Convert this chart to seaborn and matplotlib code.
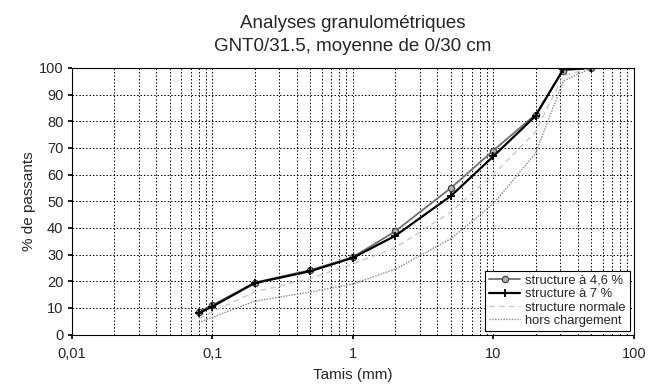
import matplotlib
matplotlib.use("Agg")
import matplotlib.pyplot as plt
import seaborn as sns
import numpy as np
import pandas as pd
from matplotlib.ticker import FixedLocator, LogLocator, NullFormatter

# ---- data ----
sieves = [0.08, 0.1, 0.2, 0.5, 1, 2, 5, 10, 20, 31.5, 50]
struct_46 = [8.5, 11.0, 19.5, 24.2, 29.0, 38.7, 55.0, 69.0, 82.5, 99.0, 100.0]
struct_7 = [8.0, 10.5, 19.3, 23.8, 28.8, 37.0, 52.0, 66.8, 82.0, 99.5, 99.8]
struct_norm = [6.0, 8.5, 16.0, 21.0, 26.5, 32.5, 46.0, 60.0, 76.0, 97.0, 100.0]
hors_charg = [4.5, 6.5, 12.5, 16.0, 19.0, 24.5, 36.0, 49.0, 68.0, 95.0, 100.0]

labels = ["structure à 4,6 %", "structure à 7 %", "structure normale", "hors chargement"]
xtick_vals = [0.01, 0.1, 1, 10, 100]
xtick_labels = ["0,01", "0,1", "1", "10", "100"]
ytick_vals = list(range(0, 101, 10))

title = "Analyses granulométriques\nGNT0/31.5, moyenne de 0/30 cm"

sns.set_theme(style="white")
plt.rcParams["font.family"] = ["Liberation Sans", "DejaVu Sans"]

fig = plt.figure(figsize=(6.65, 3.9), dpi=100)
ax = fig.add_axes([0.108, 0.142, 0.845, 0.684])

series = [struct_46, struct_7, struct_norm, hors_charg]
styles = [
    dict(color="#6e6e6e", lw=1.3, marker="o", markersize=4.5, markerfacecolor="#b0b0b0",
         markeredgecolor="#404040", markeredgewidth=0.9, linestyle="-"),
    dict(color="black", lw=1.6, marker="+", markersize=6, markeredgewidth=1.3,
         markeredgecolor="black", linestyle="-"),
    dict(color="#c9c9c9", lw=1.0, linestyle=(0, (4, 3))),
    dict(color="#8a8a8a", lw=1.0, linestyle=(0, (1, 1))),
]

for vals, lab, st in zip(series, labels, styles):
    df = pd.DataFrame({"Tamis": sieves, "val": vals})
    sns.lineplot(data=df, x="Tamis", y="val", ax=ax, label=lab, sort=False, **st)

ax.set_xscale("log")
ax.set_xlim(0.01, 100)
ax.set_ylim(0, 100)
ax.xaxis.set_major_locator(FixedLocator(xtick_vals))
ax.set_xticklabels(xtick_labels)
ax.xaxis.set_minor_locator(LogLocator(base=10, subs=np.arange(2, 10)))
ax.xaxis.set_minor_formatter(NullFormatter())
ax.set_yticks(ytick_vals)

ax.grid(True, which="major", axis="both", color="black", linestyle=(0, (1.5, 2)), lw=0.7)
ax.grid(True, which="minor", axis="x", color="black", linestyle=(0, (1.5, 2)), lw=0.7)
ax.set_axisbelow(True)

for sp in ax.spines.values():
    sp.set_color("black")
    sp.set_linewidth(0.8)

ax.tick_params(axis="y", which="major", labelsize=10.5, length=3, color="black",
               direction="out", left=True, pad=3)
ax.tick_params(axis="x", which="major", labelsize=10.5, length=3, color="black",
               direction="out", bottom=True, pad=6)
ax.tick_params(axis="x", which="minor", length=0)

ax.set_xlabel("Tamis (mm)", fontsize=11, labelpad=5)
ax.set_ylabel("% de passants", fontsize=11, labelpad=2)
ax.set_title(title, fontsize=13.5, pad=12, linespacing=1.5)

leg = ax.legend(loc="lower right", fontsize=9.3, frameon=True, fancybox=False,
                edgecolor="black", framealpha=1, borderaxespad=0.3, handlelength=2.4,
                labelspacing=0.1, borderpad=0.3, handletextpad=0.4)
leg.get_frame().set_linewidth(0.8)

fig.savefig("out.png", dpi=100)
